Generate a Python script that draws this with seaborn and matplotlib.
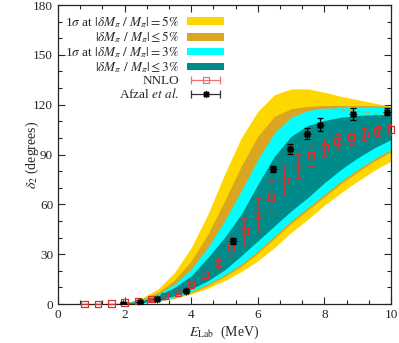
import numpy as np
import matplotlib
matplotlib.use("Agg")
import matplotlib.pyplot as plt
import seaborn as sns
from matplotlib.lines import Line2D
from matplotlib.patches import Patch
from matplotlib.legend_handler import HandlerLine2D, HandlerTuple
from matplotlib.ticker import MultipleLocator

# --- band edges ---
e_band = [1.5, 2.0, 2.5, 3.0, 3.5, 4.0, 4.5, 5.0, 5.5, 6.0, 6.5, 7.0, 7.5, 8.0, 8.5, 9.0, 9.5, 10.0]

yellow_hi = [0, 0.8, 3.5, 9, 19, 34, 54, 78, 100, 116, 126, 129.5, 129.5, 127.5, 125, 123, 121, 119]
yellow_lo = [0, 0.0, 0.4, 1.6, 3.5, 6, 9.5, 14, 19.5, 26, 34, 43, 51, 59.5, 67, 74, 80.5, 86]
gold_hi = [0, 0.6, 2.8, 7, 14.5, 26, 42, 62, 83, 101, 113, 117.5, 119, 119.5, 119.5, 119.5, 119.5, 119]
gold_lo = [0, 0.03, 0.5, 1.6, 3.6, 6.8, 11, 16.3, 22.6, 30.5, 39.5, 48.5, 56.5, 64.5, 72.5, 79.5, 86, 91.5]
cyan_hi = [0, 0.5, 2.4, 6, 12, 21, 34, 50, 68, 87, 103, 112.5, 116.5, 118, 118.5, 118.5, 118.5, 118.5]
cyan_lo = [0, 0.05, 0.6, 1.8, 4, 7.5, 12, 17.5, 24, 32, 41, 50, 58, 66, 74, 81, 87.5, 93]
teal_hi = [0, 0.4, 2, 5, 10, 17, 28, 40, 54, 72, 89, 101, 107.5, 110.5, 112.5, 113.5, 114, 114]
teal_lo = [0, 0.1, 0.8, 2.2, 5, 9, 14, 20.5, 29, 38, 47, 56, 64, 73, 81, 88, 94, 99]

# dashed line near the top right
dash_e = [8.0, 9.0, 10.0]
dash_d = [118, 116, 113.5]

# --- NNLO points ---
nnlo_e = [0.8, 1.2, 1.6, 2.0, 2.4, 2.8, 3.2, 3.6, 4.0, 4.4, 4.8, 5.2, 5.6, 6.0, 6.4, 6.8, 7.2, 7.6, 8.0, 8.4, 8.8, 9.2, 9.6, 10.0]
nnlo_d = [0.0, 0.1, 0.3, 0.8, 1.8, 3.0, 4.8, 6.8, 11.7, 17.9, 24.7, 34.0, 43.5, 53.9, 64.6, 74.6, 83.1, 89.5, 94.3, 98.0, 100.4, 102.4, 104.0, 105.0]
nnlo_err = [0, 0, 0, 0.2, 0.4, 0.6, 0.8, 1.0, 1.5, 2.0, 3.4, 6.0, 8.2, 9.7, 10.0, 8.9, 7.4, 6.2, 5.2, 4.5, 4.0, 3.5, 3.0, 3.3]

# --- Afzal et al. ---
afzal_e = [1.96, 2.46, 2.98, 3.84, 5.24, 6.47, 6.96, 7.47, 7.88, 8.87, 9.88]
afzal_d = [0.3, 1.0, 2.8, 7.6, 38.0, 81.3, 93.3, 102.6, 108.0, 114.3, 115.7]
afzal_err = [0.5, 0.5, 0.5, 0.6, 2.0, 2.0, 3.0, 3.4, 4.0, 3.4, 2.0]

labels = [r"1$\sigma$ at $|\delta M_\pi\ /\ M_\pi| = 5\%$",
          r"$|\delta M_\pi\ /\ M_\pi| \leq 5\%$",
          r"1$\sigma$ at $|\delta M_\pi\ /\ M_\pi| = 3\%$",
          r"$|\delta M_\pi\ /\ M_\pi| \leq 3\%$",
          "NNLO",
          r"Afzal $\it{et\ al.}$"]
colors = ["#ffd700", "#daa520", "#00ffff", "#008b8b"]

sns.set_style("ticks")
plt.rcParams["font.family"] = ["Liberation Serif", "DejaVu Serif"]
plt.rcParams["mathtext.fontset"] = "stix"
plt.rcParams["font.size"] = 9.5

fig = plt.figure(figsize=(3.99, 3.43), dpi=100)
ax = fig.add_axes([0.1454, 0.1137, 0.8346, 0.8717])

ax.fill_between(e_band, yellow_lo, yellow_hi, color=colors[0], lw=0)
ax.fill_between(e_band, gold_lo, gold_hi, color=colors[1], lw=0)
ax.fill_between(e_band, cyan_lo, cyan_hi, color=colors[2], lw=0)
ax.fill_between(e_band, teal_lo, teal_hi, color=colors[3], lw=0)
sns.lineplot(x=dash_e, y=dash_d, ax=ax, color=colors[1], lw=1, ls=(0, (3, 3)))

nnlo_col = "#d9302c"
ax.errorbar(nnlo_e, nnlo_d, yerr=nnlo_err, fmt="none", ecolor="#c03a3a",
            elinewidth=0.9, capsize=2.5, capthick=0.9, zorder=4)
sns.scatterplot(x=nnlo_e, y=nnlo_d, ax=ax, marker="s", s=22, facecolor="none",
                edgecolor=nnlo_col, linewidth=0.9, zorder=5, clip_on=False)

ax.errorbar(afzal_e, afzal_d, yerr=afzal_err, fmt="none", ecolor="black",
            elinewidth=0.9, capsize=2.5, capthick=0.9, zorder=6)
sns.scatterplot(x=afzal_e, y=afzal_d, ax=ax, marker=(8, 2, 0), s=20, color="black",
                edgecolor="black", linewidth=1.1, zorder=7)

ax.set_xlim(0, 10)
ax.set_ylim(0, 180)
ax.xaxis.set_major_locator(MultipleLocator(2))
ax.xaxis.set_minor_locator(MultipleLocator(2 / 3))
ax.yaxis.set_major_locator(MultipleLocator(30))
ax.yaxis.set_minor_locator(MultipleLocator(10))
ax.tick_params(which="both", direction="in", top=True, right=True, width=0.8)
ax.tick_params(which="major", length=5, labelsize=9.5)
ax.tick_params(which="minor", length=3)
for s in ax.spines.values():
    s.set_linewidth(0.9)

ax.set_xlabel(r"$E_{\rm Lab}$  (MeV)", fontsize=10, labelpad=2)
ax.set_ylabel(r"$\delta_2$ (degrees)", fontsize=10)
ax.yaxis.set_label_coords(-0.052, 0.5)

# legend: patches + gnuplot-like error bar handles
handles = [Patch(facecolor=c, edgecolor="none") for c in colors]
nnlo_caps = Line2D([], [], color="#f07070", lw=0.9, marker="|", ms=6, mew=0.9)
nnlo_mark = Line2D([], [], ls="none", marker="s", ms=4.5, mfc="none", mec="#f07070", mew=0.9)
afz_caps = Line2D([], [], color="#333333", lw=0.9, marker="|", ms=6, mew=0.9)
afz_mark = Line2D([], [], ls="none", marker=(8, 2, 0), ms=5, color="black", mew=1.0)
handles += [(nnlo_caps, nnlo_mark), (afz_caps, afz_mark)]
hmap = {nnlo_caps: HandlerLine2D(numpoints=2), afz_caps: HandlerLine2D(numpoints=2),
        nnlo_mark: HandlerLine2D(numpoints=1), afz_mark: HandlerLine2D(numpoints=1),
        tuple: HandlerTuple(ndivide=1, pad=0)}
ax.legend(handles, labels, loc="upper right", bbox_to_anchor=(0.523, 0.997),
          frameon=False, markerfirst=False, handlelength=2.8, handleheight=0.5,
          handletextpad=0.6, labelspacing=0.0, borderaxespad=0.2,
          fontsize=9.5, handler_map=hmap)

fig.savefig("out.png", dpi=100)
